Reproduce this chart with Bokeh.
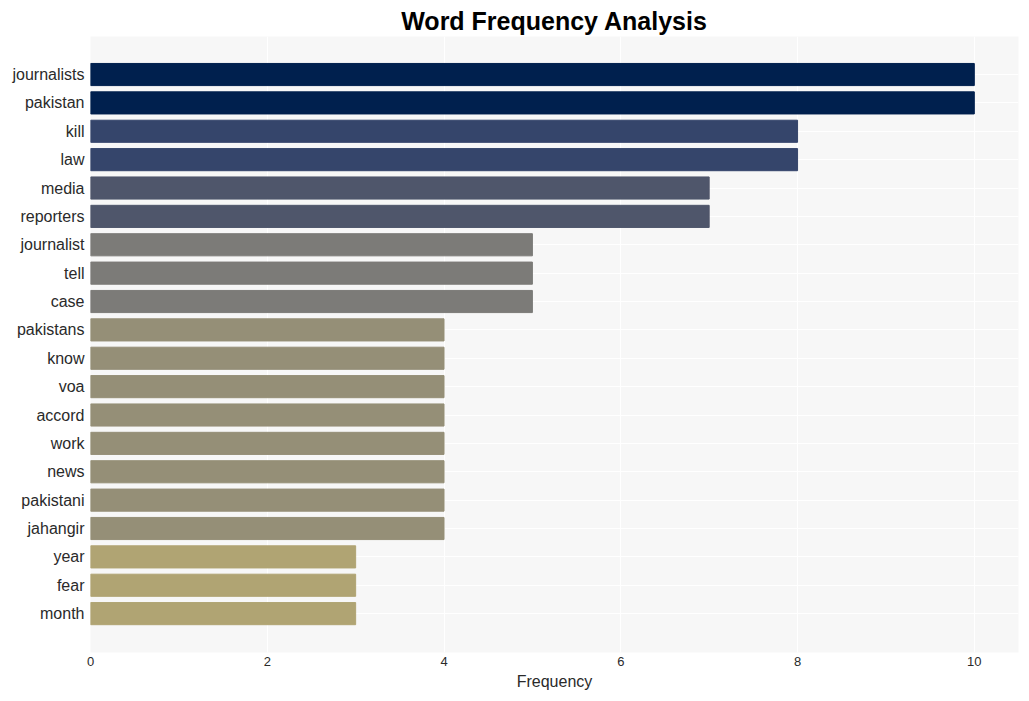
from bokeh.plotting import figure
from bokeh.models import Range1d, FixedTicker, ColumnDataSource
from bokeh.embed import file_html
from bokeh.resources import INLINE

words = ["journalists", "pakistan", "kill", "law", "media", "reporters", "journalist",
         "tell", "case", "pakistans", "know", "voa", "accord", "work", "news",
         "pakistani", "jahangir", "year", "fear", "month"]
counts = [10, 10, 8, 8, 7, 7, 5, 5, 5, 4, 4, 4, 4, 4, 4, 4, 4, 3, 3, 3]
color_by_count = {10: "#00204e", 8: "#35456b", 7: "#4f566b", 5: "#7c7b78",
                  4: "#958f77", 3: "#b0a473"}
x_ticks = [0, 2, 4, 6, 8, 10]

n = len(words)
ypos = [n - 1 - i for i in range(n)]
colors = [color_by_count[c] for c in counts]
src = ColumnDataSource(dict(y=ypos, right=counts, color=colors, word=words))

p = figure(width=1019, height=700, output_backend="svg", toolbar_location=None,
           x_range=Range1d(0, 10.5), y_range=Range1d(-1.37, n - 1 + 1.34),
           min_border_left=90, min_border_right=1, min_border_top=36, min_border_bottom=48,
           background_fill_color="#f7f7f7", border_fill_color="white",
           outline_line_color=None)

p.hbar(y="y", right="right", left=0, height=0.78, color="color", source=src)

p.title.text = "Word Frequency Analysis"
p.title.align = "center"
p.title.text_font = "Liberation Sans"
p.title.text_font_size = "25px"
p.title.text_font_style = "bold"
p.title.text_color = "black"
p.title.standoff = 4
p.title.offset = 0

p.yaxis.ticker = FixedTicker(ticks=ypos)
p.yaxis.major_label_overrides = {y: w for y, w in zip(ypos, words)}
p.xaxis.ticker = FixedTicker(ticks=x_ticks)
p.xaxis.axis_label = "Frequency"

for ax in (p.xaxis[0], p.yaxis[0]):
    ax.axis_line_color = None
    ax.major_tick_line_color = None
    ax.minor_tick_line_color = None
    ax.major_tick_out = 0
    ax.major_tick_in = 0
    ax.minor_tick_out = 0
    ax.minor_tick_in = 0
    ax.major_label_text_font = "Liberation Sans"
    ax.major_label_text_color = "#2a2a2a"
    ax.axis_label_text_font = "Liberation Sans"
    ax.axis_label_text_font_style = "normal"
    ax.axis_label_text_color = "#2a2a2a"
    ax.axis_label_text_font_size = "16px"

p.yaxis.major_label_text_font_size = "16px"
p.yaxis.major_label_standoff = 6
p.xaxis.major_label_text_font_size = "13px"
p.xaxis.major_label_standoff = 4
p.xaxis.axis_label_standoff = 4

p.xgrid.grid_line_color = "white"
p.xgrid.grid_line_width = 1
p.ygrid.grid_line_color = "white"
p.ygrid.grid_line_width = 1

open("out.html", "w").write(file_html(p, INLINE))
